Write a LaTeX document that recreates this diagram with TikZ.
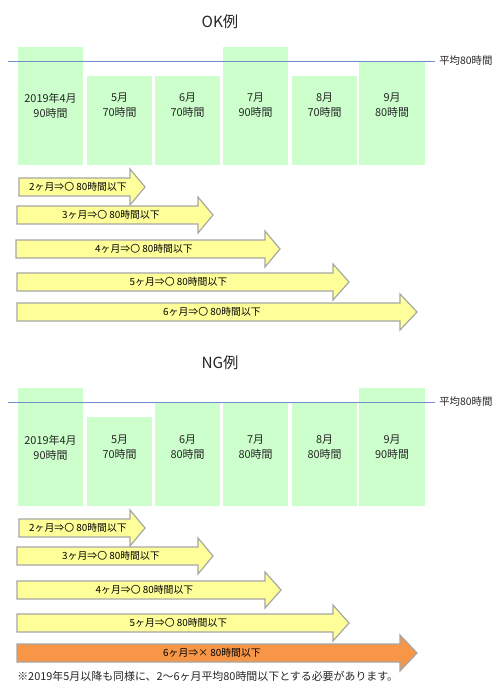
\documentclass[tikz,border=0pt]{standalone}
\usepackage{fontspec}
\setmainfont{Noto Sans CJK JP}
\usetikzlibrary{calc}
\definecolor{barg}{HTML}{CCFFCC}
\definecolor{arry}{HTML}{FFFF99}
\definecolor{arro}{HTML}{F79646}
\definecolor{arrb}{HTML}{A6A6A6}
\definecolor{avgl}{HTML}{7090CC}
\tikzset{
  barlabel/.style={align=center,font=\fontsize{8.2pt}{11.2pt}\selectfont,text=black!85,inner sep=0pt},
  arrlabel/.style={font=\fontsize{7.4pt}{9pt}\selectfont,text=black,inner sep=0pt},
  ttl/.style={font=\fontsize{11.5pt}{13pt}\selectfont,text=black!85,inner sep=0pt},
  avglabel/.style={font=\fontsize{7.8pt}{9pt}\selectfont,text=black!85,inner sep=0pt,anchor=west},
  avgline/.style={draw=avgl,line width=0.7pt},
  fatarr/.style={draw=arrb,line width=0.9pt,line join=miter},
}
% #1 name, #2 y centre, #3 x left, #4 x head, #5 x tip, #6 fill, #7 text
\newcommand\fatarrow[7]{%
  \path[fatarr,fill=#6] (#3,#2-9) -- (#4,#2-9) -- (#4,#2-18) -- (#5,#2) -- (#4,#2+18) -- (#4,#2+9) -- (#3,#2+9) -- cycle;
  \node[arrlabel] (#1) at ({(#3+#4)/2+3.5},#2) {#7};
}
% #1 name, #2 x left, #3 x right, #4 top, #5 bottom, #6 label y, #7 text
\newcommand\monthbar[7]{%
  \fill[barg] (#2,#4) rectangle (#3,#5);
  \node[barlabel] (#1) at ({(#2+#3)/2},#6) {#7};
}
\begin{document}
\begin{tikzpicture}[x=0.75pt,y=-0.75pt]
\useasboundingbox[fill=white] (0,0) rectangle (500,695);
% ---------------- OK ----------------
\node[ttl] (okt) at (220,22) {OK例};
\monthbar{okb1}{18}{83}{47}{165}{105.5}{2019年4月\\90時間}
\monthbar{okb2}{87}{152}{76}{165}{105.5}{5月\\70時間}
\monthbar{okb3}{155}{220}{76}{165}{105.5}{6月\\70時間}
\monthbar{okb4}{223}{288}{47}{165}{105.5}{7月\\90時間}
\monthbar{okb5}{292}{357}{76}{165}{105.5}{8月\\70時間}
\monthbar{okb6}{359}{425}{61}{165}{105.5}{9月\\80時間}
\coordinate (okl0) at (8,61);
\coordinate (okl1) at (435,61);
\draw[avgline] (okl0) -- (okl1);
\node[avglabel] (oka) at (439,61) {平均80時間};
\fatarrow{oka1}{187}{19}{130}{145}{arry}{2ヶ月⇒〇 80時間以下}
\fatarrow{oka2}{215}{17}{198}{213}{arry}{3ヶ月⇒〇 80時間以下}
\fatarrow{oka3}{249}{16}{265}{280}{arry}{4ヶ月⇒〇 80時間以下}
\fatarrow{oka4}{282}{17}{333}{349}{arry}{5ヶ月⇒〇 80時間以下}
\fatarrow{oka5}{312}{17}{400}{417}{arry}{6ヶ月⇒〇 80時間以下}
% ---------------- NG ----------------
\node[ttl] (ngt) at (220,363) {NG例};
\monthbar{ngb1}{18}{83}{388}{506}{447.5}{2019年4月\\90時間}
\monthbar{ngb2}{87}{152}{417}{506}{447.5}{5月\\70時間}
\monthbar{ngb3}{155}{220}{402}{506}{447.5}{6月\\80時間}
\monthbar{ngb4}{223}{288}{402}{506}{447.5}{7月\\80時間}
\monthbar{ngb5}{292}{357}{402}{506}{447.5}{8月\\80時間}
\monthbar{ngb6}{359}{425}{388}{506}{447.5}{9月\\90時間}
\coordinate (ngl0) at (8,402);
\coordinate (ngl1) at (435,402);
\draw[avgline] (ngl0) -- (ngl1);
\node[avglabel] (nga) at (439,402) {平均80時間};
\fatarrow{nga1}{528}{19}{130}{145}{arry}{2ヶ月⇒〇 80時間以下}
\fatarrow{nga2}{556}{17}{198}{213}{arry}{3ヶ月⇒〇 80時間以下}
\fatarrow{nga3}{590}{17}{265}{281}{arry}{4ヶ月⇒〇 80時間以下}
\fatarrow{nga4}{623}{17}{333}{349}{arry}{5ヶ月⇒〇 80時間以下}
\fatarrow{nga5}{653}{17}{400}{417}{arro}{6ヶ月⇒× 80時間以下}
\node[font=\fontsize{8.2pt}{10pt}\selectfont,text=black!85,inner sep=0pt,anchor=west] (note) at (17,676) {※2019年5月以降も同様に、2～6ヶ月平均80時間以下とする必要があります。};
\end{tikzpicture}
\end{document}
